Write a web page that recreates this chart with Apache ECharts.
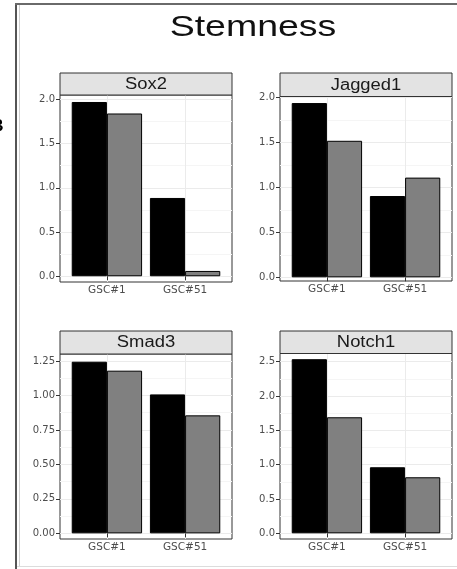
<!DOCTYPE html>
<html>
<head>
<meta charset="utf-8">
<script src="https://cdn.jsdelivr.net/npm/echarts@6/dist/echarts.min.js"></script>
<style>
html,body{margin:0;padding:0;background:#fff;}
#chart{width:457px;height:569px;}
</style>
</head>
<body>
<div id="chart"></div>
<script>
// ---- data ----
const chartTitle = 'Stemness';
const categories = ['GSC#1', 'GSC#51'];
const panelTitles = ['Sox2', 'Jagged1', 'Smad3', 'Notch1'];

const sox2Dark = [1.97, 0.885];
const sox2Grey = [1.84, 0.06];
const jagged1Dark = [1.94, 0.905];
const jagged1Grey = [1.52, 1.11];
const smad3Dark = [1.245, 1.008];
const smad3Grey = [1.18, 0.856];
const notch1Dark = [2.536, 0.962];
const notch1Grey = [1.69, 0.816];

const sox2Ticks = [0, 0.5, 1.0, 1.5, 2.0];
const sox2TickLabels = ['0.0', '0.5', '1.0', '1.5', '2.0'];
const jagged1Ticks = [0, 0.5, 1.0, 1.5, 2.0];
const jagged1TickLabels = ['0.0', '0.5', '1.0', '1.5', '2.0'];
const smad3Ticks = [0, 0.25, 0.5, 0.75, 1.0, 1.25];
const smad3TickLabels = ['0.00', '0.25', '0.50', '0.75', '1.00', '1.25'];
const notch1Ticks = [0, 0.5, 1.0, 1.5, 2.0, 2.5];
const notch1TickLabels = ['0.0', '0.5', '1.0', '1.5', '2.0', '2.5'];

// ---- layout ----
const panels = [
  {dark: sox2Dark, grey: sox2Grey, ticks: sox2Ticks, labels: sox2TickLabels, step: 0.5,
   left: 60, top: 95, width: 172, height: 187, yMin: -0.065, yMax: 2.049, stripTop: 73},
  {dark: jagged1Dark, grey: jagged1Grey, ticks: jagged1Ticks, labels: jagged1TickLabels, step: 0.5,
   left: 280, top: 96.5, width: 172, height: 184.5, yMin: -0.041, yMax: 2.013, stripTop: 73},
  {dark: smad3Dark, grey: smad3Grey, ticks: smad3Ticks, labels: smad3TickLabels, step: 0.25,
   left: 60, top: 354, width: 172, height: 185, yMin: -0.041, yMax: 1.301, stripTop: 331},
  {dark: notch1Dark, grey: notch1Grey, ticks: notch1Ticks, labels: notch1TickLabels, step: 0.5,
   left: 280, top: 353.5, width: 172, height: 185.5, yMin: -0.083, yMax: 2.619, stripTop: 331}
];

const catPositions = categories.map((c, i) => i + 1);
const gridLineColor = '#ebebeb';
const minorLineColor = '#f5f5f5';
const labelColor = '#4d4d4d';

const grids = [], xAxes = [], yAxes = [], series = [], graphics = [];

panels.forEach((p, i) => {
  grids.push({
    left: p.left, top: p.top, width: p.width, height: p.height,
    show: true, borderColor: '#333', borderWidth: 1, backgroundColor: '#fff'
  });
  xAxes.push({
    type: 'value', gridIndex: i, min: 0.4, max: 2.6,
    minInterval: 1, maxInterval: 1,
    axisLine: {show: false},
    axisTick: {show: true, length: 4, lineStyle: {color: '#333'}, customValues: catPositions},
    axisLabel: {
      show: true, customValues: catPositions, margin: 3,
      fontFamily: 'DejaVu Sans', fontSize: 10.5, color: labelColor,
      formatter: v => categories[Math.round(v) - 1]
    },
    splitLine: {show: true, lineStyle: {color: gridLineColor, width: 1}}
  });
  yAxes.push({
    type: 'value', gridIndex: i, min: p.yMin, max: p.yMax,
    minInterval: p.step, maxInterval: p.step, splitNumber: 5,
    axisLine: {show: false},
    axisTick: {show: true, length: 4, lineStyle: {color: '#333'}, customValues: p.ticks},
    axisLabel: {
      show: true, customValues: p.ticks, margin: 5,
      fontFamily: 'DejaVu Sans', fontSize: 10, color: labelColor,
      formatter: v => p.labels[p.ticks.indexOf(v)]
    },
    splitLine: {show: true, lineStyle: {color: gridLineColor, width: 1}},
    minorTick: {show: false, splitNumber: 2},
    minorSplitLine: {show: true, lineStyle: {color: minorLineColor, width: 1}}
  });
  series.push({
    type: 'bar', xAxisIndex: i, yAxisIndex: i,
    data: categories.map((c, k) => [catPositions[k], p.dark[k]]),
    barGap: '0%', barCategoryGap: '10%',
    itemStyle: {color: '#000000', borderColor: '#000', borderWidth: 1}
  });
  series.push({
    type: 'bar', xAxisIndex: i, yAxisIndex: i,
    data: categories.map((c, k) => [catPositions[k], p.grey[k]]),
    barGap: '0%', barCategoryGap: '10%',
    itemStyle: {color: '#808080', borderColor: '#000', borderWidth: 1}
  });
  // facet strip
  const stripH = p.top - p.stripTop;
  graphics.push({
    type: 'rect', z: 10,
    shape: {x: p.left, y: p.stripTop, width: p.width, height: stripH},
    style: {fill: '#e3e3e3', stroke: '#333', lineWidth: 1}
  });
  graphics.push({
    type: 'text', z: 11,
    x: p.left + p.width / 2, y: p.stripTop + stripH / 2 + 0.5,
    scaleX: 1.15,
    style: {
      text: panelTitles[i], fontFamily: 'Liberation Sans', fontSize: 16, fill: '#1a1a1a',
      align: 'center', verticalAlign: 'middle', textAlign: 'center', textVerticalAlign: 'middle'
    }
  });
});

// title
graphics.push({
  type: 'text', z: 11, x: 253, y: 28, scaleX: 1.25,
  style: {
    text: chartTitle, fontFamily: 'Liberation Sans', fontSize: 30, fill: '#111',
    align: 'center', verticalAlign: 'middle', textAlign: 'center', textVerticalAlign: 'middle'
  }
});
// cropped panel letter at far left
graphics.push({
  type: 'text', z: 11, x: 3.5, y: 126,
  style: {
    text: 'B', fontFamily: 'Liberation Sans', fontWeight: 'bold', fontSize: 17, fill: '#000',
    align: 'right', verticalAlign: 'middle', textAlign: 'right', textVerticalAlign: 'middle'
  }
});
// outer frame
graphics.push({type: 'line', z: 12, shape: {x1: 16, y1: 4, x2: 16, y2: 569}, style: {stroke: '#555', lineWidth: 2}});
graphics.push({type: 'line', z: 12, shape: {x1: 19.5, y1: 5, x2: 19.5, y2: 566}, style: {stroke: '#d0d0d0', lineWidth: 1}});
graphics.push({type: 'line', z: 12, shape: {x1: 15, y1: 4, x2: 457, y2: 4}, style: {stroke: '#6a6a6a', lineWidth: 2}});
graphics.push({type: 'line', z: 12, shape: {x1: 17, y1: 566.5, x2: 457, y2: 566.5}, style: {stroke: '#dcdcdc', lineWidth: 1}});

const chart = echarts.init(document.getElementById('chart'), null, {renderer: 'canvas'});
chart.setOption({
  animation: false,
  backgroundColor: '#fff',
  grid: grids,
  xAxis: xAxes,
  yAxis: yAxes,
  series: series,
  graphic: graphics
});
</script>
</body>
</html>
